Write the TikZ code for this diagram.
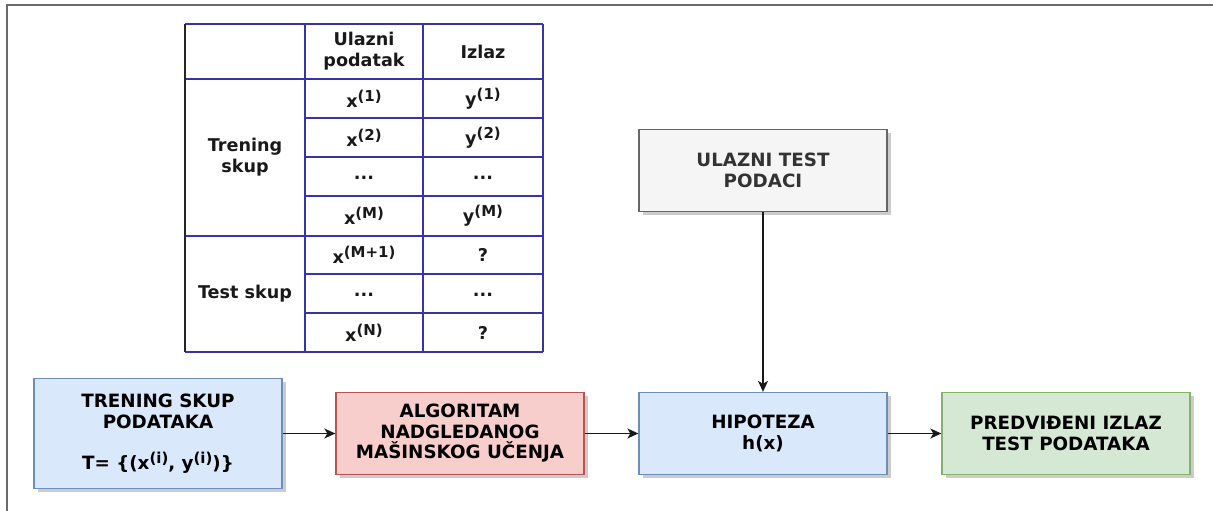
\documentclass[tikz,border=0pt]{standalone}
\usepackage{fontspec}
\setmainfont{DejaVu Sans}
\usetikzlibrary{arrows.meta,shadows}

\definecolor{blueFill}{HTML}{DAE8FC}
\definecolor{blueLine}{HTML}{6C8EBF}
\definecolor{redFill}{HTML}{F8CECC}
\definecolor{redLine}{HTML}{B85450}
\definecolor{greenFill}{HTML}{D5E8D4}
\definecolor{greenLine}{HTML}{82B366}
\definecolor{grayFill}{HTML}{F5F5F5}
\definecolor{grayLine}{HTML}{666666}
\definecolor{grayText}{HTML}{333333}
\definecolor{tableLine}{HTML}{3535A8}
\definecolor{frameLine}{HTML}{6A6A6A}

\newcommand\boxfont{\fontsize{18.3}{20.5}\selectfont\bfseries}
\newcommand\cellfont{\fontsize{17.6}{21}\selectfont\bfseries}
\newcommand\supx[1]{\raisebox{6pt}{\fontsize{15}{15}\selectfont #1}}

\tikzset{
  box/.style={draw, line width=1.3pt, minimum width=248pt, minimum height=82pt,
    inner sep=0pt, align=center, font=\boxfont, text=black,
    drop shadow={shadow xshift=3.5pt, shadow yshift=-3.5pt, fill=black!20, opacity=1}},
  bluebox/.style={box, fill=blueFill, draw=blueLine},
  redbox/.style={box, fill=redFill, draw=redLine},
  greenbox/.style={box, fill=greenFill, draw=greenLine},
  graybox/.style={box, fill=grayFill, draw=grayLine, text=grayText},
  cell/.style={inner sep=0pt, align=center, font=\cellfont, text=black!90},
  grid/.style={draw=tableLine, line width=1.5pt},
  flow/.style={draw=black!90, line width=1.4pt, -{Stealth[length=11pt, width=10pt, inset=3pt]}},
}

\begin{document}
\begin{tikzpicture}[x=1pt, y=-1pt]
  \useasboundingbox (0,0) rectangle (1213,511);

  % outer frame (top and left edges)
  \draw[frameLine, line width=2pt] (7,511) -- (7,5.5) -- (1213,5.5);

  % ---------- data table ----------
  % column borders: 185, 305, 423, 543
  % row borders: 24, 79, 118, 157, 196, 236, 274, 313, 352
  \foreach \yy in {24,79,236,352}
    \draw[grid] (185,\yy) -- (543,\yy);
  \foreach \yy in {118,157,196,274,313}
    \draw[grid] (305,\yy) -- (543,\yy);
  \foreach \xx in {305,423,543}
    \draw[grid] (\xx,24) -- (\xx,352);
  \draw[line width=1.5pt, draw=black!85] (185,24) -- (185,352);

  \node[cell] (hIn)  at (364,51.5) {Ulazni\\podatak};
  \node[cell] (hOut) at (483,51.5) {Izlaz};

  \node[cell] (grpTrain) at (245,157.5) {Trening\\skup};
  \node[cell] (grpTest)  at (245,294)   {Test skup};

  \node[cell] (x1)  at (364,98.5)  {x\supx{(1)}};
  \node[cell] (y1)  at (483,98.5)  {y\supx{(1)}};
  \node[cell] (x2)  at (364,137.5) {x\supx{(2)}};
  \node[cell] (y2)  at (483,137.5) {y\supx{(2)}};
  \node[cell] (x3)  at (364,178)   {...};
  \node[cell] (y3)  at (483,178)   {...};
  \node[cell] (xM)  at (364,216)   {x\supx{(M)}};
  \node[cell] (yM)  at (483,216)   {y\supx{(M)}};
  \node[cell] (xM1) at (364,255)   {x\supx{(M+1)}};
  \node[cell] (yM1) at (483,255)   {?};
  \node[cell] (x7)  at (364,295)   {...};
  \node[cell] (y7)  at (483,295)   {...};
  \node[cell] (xN)  at (364,332.5) {x\supx{(N)}};
  \node[cell] (yN)  at (483,332.5) {?};

  % ---------- process boxes ----------
  \node[bluebox, minimum height=110pt] (train) at (158,433.5)
    {TRENING SKUP\\PODATAKA\\[20.5pt]T= \{(x\supx{(i)}, y\supx{(i)})\}};
  \node[redbox]   (algo) at (460,433.5) {ALGORITAM\\NADGLEDANOG\\MAŠINSKOG UČENJA};
  \node[bluebox]  (hyp)  at (763,433.5) {HIPOTEZA\\h(x)};
  \node[greenbox] (pred) at (1066,433.5) {PREDVIĐENI IZLAZ\\TEST PODATAKA};
  \node[graybox]  (test) at (763,170.5) {ULAZNI TEST\\PODACI};

  % ---------- connectors ----------
  \draw[flow] (train.east) -- (algo.west);
  \draw[flow] (algo.east) -- (hyp.west);
  \draw[flow] (hyp.east) -- (pred.west);
  \draw[flow] (test.south) -- (hyp.north);
\end{tikzpicture}
\end{document}
